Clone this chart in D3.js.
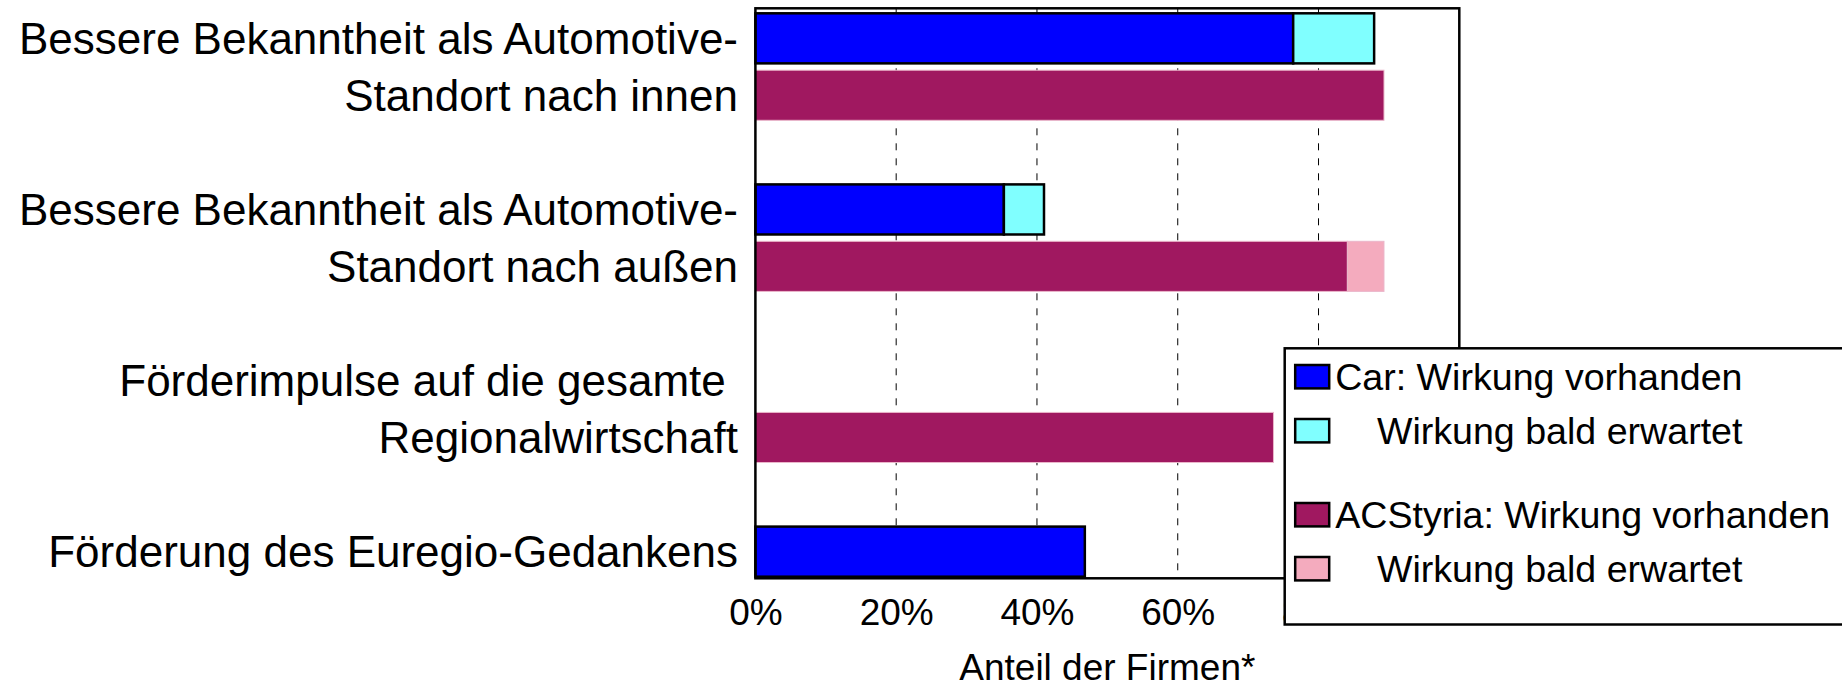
<!DOCTYPE html>
<html>
<head>
<meta charset="utf-8">
<script src="https://cdn.jsdelivr.net/npm/d3@7"></script>
<style>
    body { margin: 0; background: #fff; }
    svg { display: block; }
</style>
</head>
<body>
<script>
    // Categories, one entry per line of the label
    var categories = [
        ['Bessere Bekanntheit als Automotive-', 'Standort nach innen'],
        ['Bessere Bekanntheit als Automotive-', 'Standort nach außen'],
        ['Förderimpulse auf die gesamte ', 'Regionalwirtschaft'],
        ['Förderung des Euregio-Gedankens']
    ];

    // Values in percent of firms
    var carPresent = [76.4, 35.3, 0, 46.8],
        carSoon = [11.5, 5.7, 0, 0],
        acPresent = [89.3, 84.1, 73.6, 0],
        acSoon = [0, 5.2, 0, 0];

    var xTicks = [0, 20, 40, 60, 80, 100];

    var legendLabels = [
        'Car: Wirkung vorhanden',
        '    Wirkung bald erwartet',
        'ACStyria: Wirkung vorhanden',
        '    Wirkung bald erwartet'
    ];

    var colorBlue = '#0000ff',
        colorCyan = '#80ffff',
        colorPlum = '#a01860',
        colorPink = '#f4abbe',
        fontFamily = "'Liberation Sans', Arial, sans-serif";

    var width = 1842,
        height = 685,
        plotLeft = 755.4,
        plotRight = 1459.3,
        plotTop = 8.3,
        plotBottom = 578.3,
        groupStep = 171.1;

    var svg = d3.select('body')
            .append('svg')
            .attr('width', width)
            .attr('height', height);

    svg.append('rect')
            .attr('width', width)
            .attr('height', height)
            .attr('fill', 'white');

    var x = d3.scaleLinear()
            .domain([0, 100])
            .range([plotLeft, plotRight]);

    var yGroup = d3.scaleBand()
            .domain(d3.range(categories.length))
            .range([plotTop, plotTop + groupStep * categories.length]);

    var ySub = d3.scaleBand()
            .domain(['car', 'ac'])
            .range([5, 112])
            .paddingInner(0.12);

    // Gridlines
    svg.append('g')
            .selectAll('line')
            .data(xTicks.filter(function(d){ return d > 0 && d < 100; }))
            .enter().append('line')
            .attr('x1', function(d){ return x(d); })
            .attr('x2', function(d){ return x(d); })
            .attr('y1', plotTop)
            .attr('y2', plotBottom)
            .attr('stroke', '#000')
            .attr('stroke-width', 1)
            .attr('stroke-dasharray', '7,8');

    // Build stacked series
    var carRows = categories.map(function(c, i){ return {present: carPresent[i], soon: carSoon[i], idx: i}; }),
        acRows = categories.map(function(c, i){ return {present: acPresent[i], soon: acSoon[i], idx: i}; });

    var stack = d3.stack().keys(['present', 'soon']);

    var series = [
        {key: 'car', layers: stack(carRows), colors: [colorBlue, colorCyan], stroke: '#000', strokeWidth: 2.5},
        {key: 'ac', layers: stack(acRows), colors: [colorPlum, colorPink], stroke: '#eab6ca', strokeWidth: 1}
    ];

    // Render bars
    series.forEach(function(s) {
        s.layers.forEach(function(layer, li) {
            svg.append('g')
                    .selectAll('rect')
                    .data(layer.filter(function(d){ return d[1] - d[0] > 0; }))
                    .enter().append('rect')
                    .attr('x', function(d){ return x(d[0]); })
                    .attr('width', function(d){ return x(d[1]) - x(d[0]); })
                    .attr('y', function(d){ return yGroup(d.data.idx) + ySub(s.key); })
                    .attr('height', ySub.bandwidth())
                    .attr('fill', s.colors[li])
                    .attr('stroke', s.stroke)
                    .attr('stroke-width', s.strokeWidth);
        });
    });

    // Plot frame
    svg.append('rect')
            .attr('x', plotLeft)
            .attr('y', plotTop)
            .attr('width', plotRight - plotLeft)
            .attr('height', plotBottom - plotTop)
            .attr('fill', 'none')
            .attr('stroke', '#000')
            .attr('stroke-width', 2.5);

    // Category labels, each line next to its bar
    var subKeys = ['car', 'ac'];
    categories.forEach(function(lines, i) {
        lines.forEach(function(line, j) {
            svg.append('text')
                    .attr('x', 738)
                    .attr('y', yGroup(i) + ySub(subKeys[j]) + ySub.bandwidth() / 2)
                    .attr('dy', '0.35em')
                    .attr('text-anchor', 'end')
                    .attr('xml:space', 'preserve')
                    .style('white-space', 'pre')
                    .style('font-family', fontFamily)
                    .style('font-size', '44px')
                    .attr('fill', '#000')
                    .text(line);
        });
    });

    // X axis
    var xAxis = svg.append('g')
            .attr('transform', 'translate(0,' + plotBottom + ')')
            .call(d3.axisBottom(x)
                .tickValues(xTicks)
                .tickFormat(function(d){ return d + '%'; })
                .tickSize(0)
                .tickPadding(20.4));
    xAxis.select('.domain').remove();
    xAxis.selectAll('text')
            .style('font-family', fontFamily)
            .style('font-size', '37px')
            .attr('fill', '#000');

    svg.append('text')
            .attr('x', (plotLeft + plotRight) / 2)
            .attr('y', 679.5)
            .attr('text-anchor', 'middle')
            .style('font-family', fontFamily)
            .style('font-size', '37px')
            .attr('fill', '#000')
            .text('Anteil der Firmen*');

    // Legend
    var legendColors = [colorBlue, colorCyan, colorPlum, colorPink],
        legendX = 1284.7,
        legendY = 348.3;

    svg.append('rect')
            .attr('x', legendX)
            .attr('y', legendY)
            .attr('width', 620)
            .attr('height', 624.5 - legendY)
            .attr('fill', 'white')
            .attr('stroke', '#000')
            .attr('stroke-width', 2.5);

    var legendRow = function(i){ return legendY + 28.4 + i * 54 + (i >= 2 ? 30 : 0); };

    var entries = svg.append('g')
            .selectAll('g')
            .data(legendLabels)
            .enter().append('g');

    entries.append('rect')
            .attr('x', legendX + 10.5)
            .attr('y', function(d, i){ return legendRow(i) - 11.7; })
            .attr('width', 34)
            .attr('height', 23.4)
            .attr('fill', function(d, i){ return legendColors[i]; })
            .attr('stroke', '#000')
            .attr('stroke-width', 2.5);

    entries.append('text')
            .attr('x', legendX + 50.5)
            .attr('y', function(d, i){ return legendRow(i); })
            .attr('dy', '0.35em')
            .attr('xml:space', 'preserve')
            .style('white-space', 'pre')
            .style('font-family', fontFamily)
            .style('font-size', '37.6px')
            .attr('fill', '#000')
            .text(function(d){ return d; });
</script>
</body>
</html>
